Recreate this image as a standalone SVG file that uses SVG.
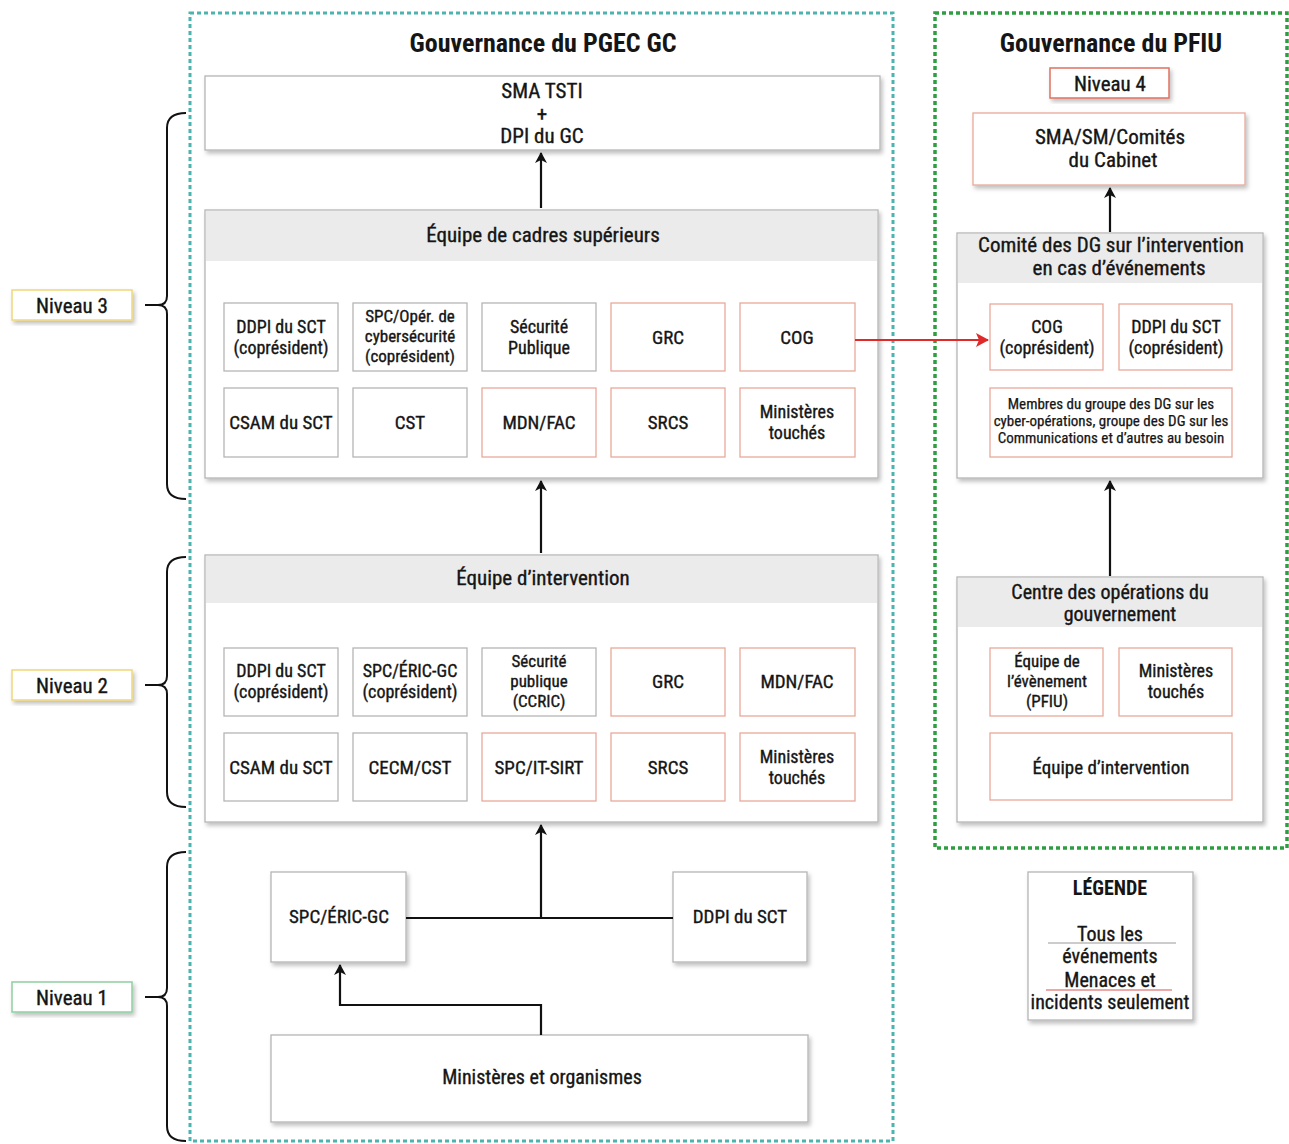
<svg xmlns="http://www.w3.org/2000/svg" width="1289" height="1144" viewBox="0 0 1289 1144">
<style>
.t{font-family:"Liberation Sans Narrow","Roboto Condensed","DejaVu Sans Condensed","Liberation Sans",sans-serif;font-stretch:condensed;font-size:19px;fill:#151515;stroke:#151515;stroke-width:0.35;text-anchor:middle}
.s{font-size:15px;stroke-width:0.25}
.m{font-size:18px}
.n{font-size:17px}
.l{font-size:21px}
.h{font-size:26px;font-weight:bold;stroke-width:0}
.box{fill:#fff;stroke:#b5b5b5;stroke-width:1.3;filter:url(#sh)}
.rbox{fill:#fff;stroke:#eaa898;stroke-width:1.3;filter:url(#sh)}
.ibox{fill:#fff;stroke:#b5b5b5;stroke-width:1.3}
.irbox{fill:#fff;stroke:#eaa898;stroke-width:1.3}
.hdr{fill:#ebebeb}
.ln{fill:none;stroke:#111;stroke-width:2.2}
.br{fill:none;stroke:#111;stroke-width:2}
</style>
<defs>
<filter id="sh" x="-10%" y="-10%" width="125%" height="130%">
<feDropShadow dx="2" dy="3" stdDeviation="2" flood-color="#000" flood-opacity="0.25"/>
</filter>
<marker id="ah" markerWidth="12" markerHeight="12" refX="10" refY="6" orient="auto" markerUnits="userSpaceOnUse">
<path d="M0,0 L11,6 L0,12 L3,6 Z" fill="#111"/>
</marker>
<marker id="ahr" markerWidth="14" markerHeight="14" refX="12" refY="7" orient="auto" markerUnits="userSpaceOnUse">
<path d="M0,0 L13,7 L0,14 L3,7 Z" fill="#e02a2a"/>
</marker>
</defs>
<rect width="1289" height="1144" fill="#fff"/>

<!-- dashed frames -->
<rect x="190" y="13" width="703" height="1128" fill="none" stroke="#4bb4ae" stroke-width="3" stroke-dasharray="4 3"/>
<rect x="935" y="13" width="352" height="835" fill="none" stroke="#2e9e40" stroke-width="3.5" stroke-dasharray="4 3"/>

<text class="t h" x="543" y="52">Gouvernance du PGEC GC</text>
<text class="t h" x="1111" y="52">Gouvernance du PFIU</text>

<!-- level labels -->
<g id="niveau3"><rect x="12" y="290" width="120" height="30" fill="#fff" stroke="#f0d77a" stroke-width="1.5" filter="url(#sh)"/><text class="t l" x="72" y="313">Niveau 3</text></g>
<g id="niveau2"><rect x="12" y="670" width="120" height="30" fill="#fff" stroke="#f0d77a" stroke-width="1.5" filter="url(#sh)"/><text class="t l" x="72" y="693">Niveau 2</text></g>
<g id="niveau1"><rect x="12" y="982" width="120" height="30" fill="#fff" stroke="#8fd0a0" stroke-width="1.5" filter="url(#sh)"/><text class="t l" x="72" y="1005">Niveau 1</text></g>
<g id="niveau4"><rect x="1050" y="68" width="119" height="30" fill="#fff" stroke="#e07060" stroke-width="1.5" filter="url(#sh)"/><text class="t l" x="1110" y="91">Niveau 4</text></g>

<!-- braces -->
<g id="braces">
<path class="br" d="M186,113 Q167,113 167,128 L167,296 Q167,305 158,305 Q167,305 167,314 L167,484 Q167,499 186,499 M145,305 L158,305"/>
<path class="br" d="M186,557 Q167,557 167,572 L167,676 Q167,685 158,685 Q167,685 167,694 L167,792 Q167,807 186,807 M145,685 L158,685"/>
<path class="br" d="M186,852 Q167,852 167,867 L167,988 Q167,997 158,997 Q167,997 167,1006 L167,1126 Q167,1141 186,1141 M145,997 L158,997"/>
</g>

<!-- top box -->
<g id="sma-tsti"><rect class="box" x="205" y="76" width="675" height="74"/>
<text class="t l" x="542" y="98">SMA TSTI</text><text class="t l" x="542" y="121">+</text><text class="t l" x="542" y="143">DPI du GC</text></g>

<!-- Equipe de cadres superieurs -->
<g id="cadres">
<rect class="box" x="205" y="210" width="673" height="268"/>
<rect class="hdr" x="206" y="211" width="671" height="50"/>
<text class="t l" x="543" y="242">Équipe de cadres supérieurs</text>
<rect class="ibox" x="224" y="303" width="114" height="68"/><text class="t m" x="281" y="333">DDPI du SCT</text><text class="t m" x="281" y="354">(coprésident)</text>
<rect class="ibox" x="353" y="303" width="114" height="68"/><text class="t n" x="410" y="322">SPC/Opér. de</text><text class="t n" x="410" y="342">cybersécurité</text><text class="t n" x="410" y="362">(coprésident)</text>
<rect class="ibox" x="482" y="303" width="114" height="68"/><text class="t m" x="539" y="333">Sécurité</text><text class="t m" x="539" y="354">Publique</text>
<rect class="irbox" x="611" y="303" width="114" height="68"/><text class="t" x="668" y="344">GRC</text>
<rect class="irbox" x="740" y="303" width="115" height="68"/><text class="t" x="797" y="344">COG</text>
<rect class="ibox" x="224" y="388" width="114" height="69"/><text class="t" x="281" y="429">CSAM du SCT</text>
<rect class="ibox" x="353" y="388" width="114" height="69"/><text class="t" x="410" y="429">CST</text>
<rect class="irbox" x="482" y="388" width="114" height="69"/><text class="t" x="539" y="429">MDN/FAC</text>
<rect class="irbox" x="611" y="388" width="114" height="69"/><text class="t" x="668" y="429">SRCS</text>
<rect class="irbox" x="740" y="388" width="115" height="69"/><text class="t m" x="797" y="418">Ministères</text><text class="t m" x="797" y="439">touchés</text>
</g>

<!-- Equipe d'intervention -->
<g id="intervention">
<rect class="box" x="205" y="555" width="673" height="267"/>
<rect class="hdr" x="206" y="556" width="671" height="47"/>
<text class="t l" x="543" y="585">Équipe d’intervention</text>
<rect class="ibox" x="224" y="648" width="114" height="68"/><text class="t m" x="281" y="677">DDPI du SCT</text><text class="t m" x="281" y="698">(coprésident)</text>
<rect class="ibox" x="353" y="648" width="114" height="68"/><text class="t m" x="410" y="677">SPC/ÉRIC-GC</text><text class="t m" x="410" y="698">(coprésident)</text>
<rect class="ibox" x="482" y="648" width="114" height="68"/><text class="t n" x="539" y="667">Sécurité</text><text class="t n" x="539" y="687">publique</text><text class="t n" x="539" y="707">(CCRIC)</text>
<rect class="irbox" x="611" y="648" width="114" height="68"/><text class="t" x="668" y="688">GRC</text>
<rect class="irbox" x="740" y="648" width="115" height="68"/><text class="t" x="797" y="688">MDN/FAC</text>
<rect class="ibox" x="224" y="733" width="114" height="68"/><text class="t" x="281" y="774">CSAM du SCT</text>
<rect class="ibox" x="353" y="733" width="114" height="68"/><text class="t" x="410" y="774">CECM/CST</text>
<rect class="irbox" x="482" y="733" width="114" height="68"/><text class="t" x="539" y="774">SPC/IT-SIRT</text>
<rect class="irbox" x="611" y="733" width="114" height="68"/><text class="t" x="668" y="774">SRCS</text>
<rect class="irbox" x="740" y="733" width="115" height="68"/><text class="t m" x="797" y="763">Ministères</text><text class="t m" x="797" y="784">touchés</text>
</g>

<!-- Level 1 -->
<g id="spc-eric"><rect class="box" x="271" y="872" width="135" height="90"/><text class="t" x="339" y="923">SPC/ÉRIC-GC</text></g>
<g id="ddpi-sct"><rect class="box" x="673" y="872" width="134" height="90"/><text class="t" x="740" y="923">DDPI du SCT</text></g>
<g id="ministeres-organismes"><rect class="box" x="271" y="1035" width="537" height="87"/><text class="t" x="542" y="1084" style="font-size:20px">Ministères et organismes</text></g>

<!-- Right side -->
<g id="sma-sm-cabinet"><rect class="rbox" x="973" y="113" width="272" height="72"/>
<text class="t l" x="1110" y="144">SMA/SM/Comités</text><text class="t l" x="1113" y="167">du Cabinet</text></g>

<g id="comite-dg">
<rect class="box" x="957" y="233" width="306" height="245"/>
<rect class="hdr" x="958" y="234" width="304" height="49"/>
<text class="t l" x="1111" y="252">Comité des DG sur l’intervention</text>
<text class="t l" x="1119" y="275">en cas d’événements</text>
<rect class="irbox" x="990" y="304" width="113" height="66"/><text class="t m" x="1047" y="333">COG</text><text class="t m" x="1047" y="354">(coprésident)</text>
<rect class="irbox" x="1119" y="304" width="113" height="66"/><text class="t m" x="1176" y="333">DDPI du SCT</text><text class="t m" x="1176" y="354">(coprésident)</text>
<rect class="irbox" x="990" y="388" width="242" height="69"/>
<text class="t s" x="1111" y="409">Membres du groupe des DG sur les</text>
<text class="t s" x="1111" y="426">cyber-opérations, groupe des DG sur les</text>
<text class="t s" x="1111" y="443">Communications et d’autres au besoin</text>
</g>

<g id="centre-ops">
<rect class="box" x="957" y="577" width="306" height="245"/>
<rect class="hdr" x="958" y="578" width="304" height="49"/>
<text class="t" x="1110" y="599" style="font-size:20px">Centre des opérations du</text>
<text class="t" x="1120" y="621" style="font-size:20px">gouvernement</text>
<rect class="irbox" x="990" y="648" width="113" height="68"/><text class="t n" x="1047" y="667">Équipe de</text><text class="t n" x="1047" y="687">l’évènement</text><text class="t n" x="1047" y="707">(PFIU)</text>
<rect class="irbox" x="1119" y="648" width="113" height="68"/><text class="t m" x="1176" y="677">Ministères</text><text class="t m" x="1176" y="698">touchés</text>
<rect class="irbox" x="990" y="733" width="242" height="67"/><text class="t" x="1111" y="774">Équipe d’intervention</text>
</g>

<!-- Legend -->
<g id="legende">
<rect class="box" x="1028" y="872" width="165" height="148"/>
<text class="t" x="1110" y="895" style="font-size:20px;font-weight:bold;stroke-width:0">LÉGENDE</text>
<text class="t" x="1110" y="941" style="font-size:20px">Tous les</text>
<line x1="1048" y1="943" x2="1176" y2="943" stroke="#999" stroke-width="1"/>
<text class="t" x="1110" y="963" style="font-size:20px">événements</text>
<text class="t" x="1110" y="987" style="font-size:20px">Menaces et</text>
<line x1="1046" y1="990" x2="1172" y2="990" stroke="#d9534f" stroke-width="1"/>
<text class="t" x="1110" y="1009" style="font-size:20px">incidents seulement</text>
</g>

<!-- connectors -->
<g id="connectors">
<line class="ln" x1="541" y1="208" x2="541" y2="153" marker-end="url(#ah)"/>
<line class="ln" x1="541" y1="553" x2="541" y2="481" marker-end="url(#ah)"/>
<line class="ln" x1="406" y1="918" x2="673" y2="918"/>
<line class="ln" x1="541" y1="918" x2="541" y2="825" marker-end="url(#ah)"/>
<polyline class="ln" points="541,1035 541,1005 340,1005 340,965" marker-end="url(#ah)"/>
<line x1="855" y1="340" x2="988" y2="340" stroke="#e02a2a" stroke-width="2" marker-end="url(#ahr)"/>
<line class="ln" x1="1110" y1="232" x2="1110" y2="188" marker-end="url(#ah)"/>
<line class="ln" x1="1110" y1="576" x2="1110" y2="481" marker-end="url(#ah)"/>
</g>
</svg>
